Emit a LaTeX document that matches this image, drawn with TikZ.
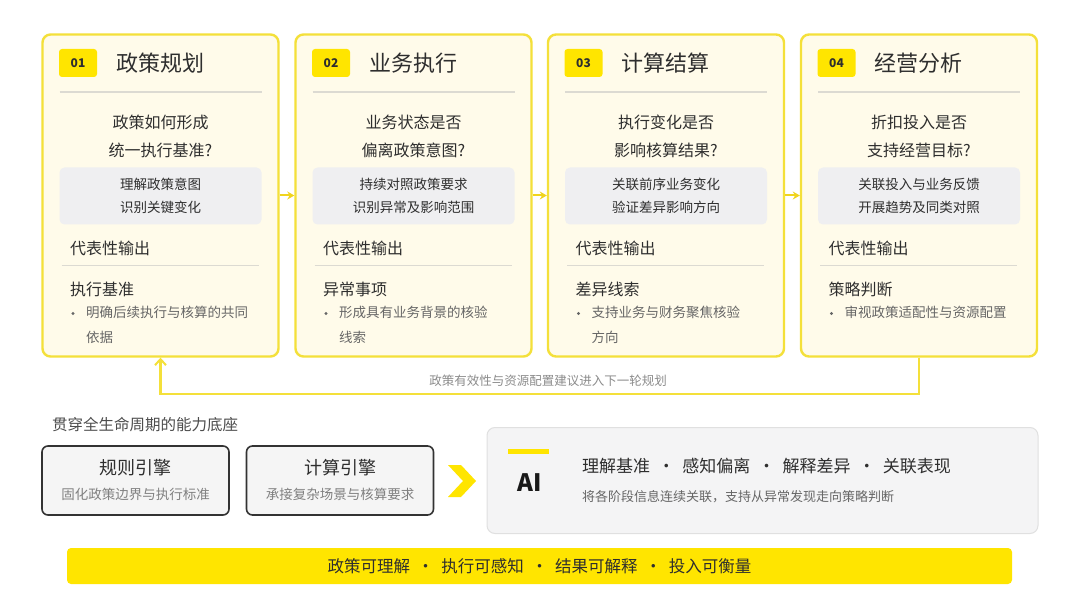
\documentclass[tikz,border=0pt]{standalone}
\usepackage{fontspec}
\setmainfont{Noto Sans CJK SC}
\usetikzlibrary{arrows.meta}
\definecolor{ylw}{HTML}{F4E03A}
\definecolor{ylwarr}{HTML}{F0D41E}
\definecolor{ylwfill}{HTML}{FFE500}
\definecolor{cream}{HTML}{FFFBEA}
\definecolor{grybox}{HTML}{EFEFF1}
\definecolor{txt}{HTML}{2E2E2E}
\definecolor{subtxt}{HTML}{666666}
\definecolor{lightline}{HTML}{DCDAD2}
\newcommand{\fs}[1]{\fontsize{#1}{#1}\selectfont}
\tikzset{
  card/.style={draw=ylw, line width=2.4pt, fill=cream, rounded corners=8pt, minimum width=236pt, minimum height=322pt, inner sep=0pt},
  badge/.style={fill=ylwfill, rounded corners=3pt, minimum width=38pt, minimum height=28pt, inner sep=0pt, font=\fs{12}\bfseries, text=txt},
  ttl/.style={anchor=west, font=\fs{22}, text=txt, inner sep=0pt},
  qst/.style={align=center, font=\fs{16}, text=txt, inner sep=0pt},
  gbox/.style={fill=grybox, rounded corners=5pt, minimum width=202pt, minimum height=57pt, align=center, font=\fs{13.5}, text=txt, inner sep=0pt},
  hd/.style={anchor=west, font=\fs{16}, text=txt, inner sep=0pt},
  bul/.style={anchor=north west, font=\fs{13.5}, text=subtxt, inner sep=0pt, align=left},
  dot/.style={circle, fill=subtxt, inner sep=0pt, minimum size=3.2pt},
  sep/.style={draw=lightline, line width=1.6pt},
  carr/.style={draw=ylwarr, line width=2pt, -{Stealth[length=7pt,width=8pt]}},
  fb/.style={draw=ylw, line width=2.4pt, -{Straight Barb[length=6pt,width=11pt,line width=2pt]}},
  eng/.style={draw=black!80, line width=1.6pt, fill=black!4, rounded corners=6pt, minimum width=187pt, minimum height=69pt, inner sep=0pt},
}
\begin{document}
\begin{tikzpicture}[x=1pt,y=-1pt]
\useasboundingbox[fill=white] (0,0) rectangle (1080,607);

% cards
\foreach \i/\cx/\num/\title/\qa/\qb/\ga/\gb/\out/\ba/\bb in {
 1/160.5/01/政策规划/政策如何形成/统一执行基准?/理解政策意图/识别关键变化/执行基准/明确后续执行与核算的共同/依据,
 2/413.5/02/业务执行/业务状态是否/偏离政策意图?/持续对照政策要求/识别异常及影响范围/异常事项/形成具有业务背景的核验/线索,
 3/666/03/计算结算/执行变化是否/影响核算结果?/关联前序业务变化/验证差异影响方向/差异线索/支持业务与财务聚焦核验/方向,
 4/919/04/经营分析/折扣投入是否/支持经营目标?/关联投入与业务反馈/开展趋势及同类对照/策略判断/审视政策适配性与资源配置/}{
  \node[card] (c\i) at (\cx,195.5) {};
  \node[badge] (b\i) at (\cx-82.5,63) {\num};
  \node[ttl] (t\i) at (\cx-44.5,63.5) {\title};
  \draw[sep] (\cx-101,92) -- (\cx+101,92);
  \node[qst] (q\i) at (\cx,136.5) {\qa\\[12pt]\qb};
  \node[gbox] (g\i) at (\cx,196) {\ga\\[10pt]\gb};
  \node[hd] (h\i) at (\cx-90.5,248) {代表性输出};
  \draw[sep] (\cx-99,265.5) -- (\cx+98,265.5);
  \node[hd] (o\i) at (\cx-90.5,289) {\out};
  \node[dot] (d\i) at (\cx-87.5,313.5) {};
  \node[bul] (e\i) at (\cx-74.5,306) {\ba\\[11pt]\bb};
}

% arrows between cards
\draw[carr] (c1.east) -- (c2.west);
\draw[carr] (c2.east) -- (c3.west);
\draw[carr] (c3.east) -- (c4.west);

% feedback loop
\coordinate (fbr) at (919,394);
\coordinate (fbl) at (160.5,394);
\draw[fb] (c4.south) -- (fbr) -- (fbl) -- (c1.south);
\node[font=\fs{12.5}, text=black!45, inner sep=0pt] (fbt) at (548,381) {政策有效性与资源配置建议进入下一轮规划};

% capability base
\node[anchor=west, font=\fs{15.5}, text=black!70, inner sep=0pt] (base) at (52,425) {贯穿全生命周期的能力底座};
\node[eng] (e1) at (135.5,480.5) {};
\node[font=\fs{18}, text=txt, inner sep=0pt] (e1t) at (135.5,467.5) {规则引擎};
\node[font=\fs{13.5}, text=black!50, inner sep=0pt] (e1s) at (135.5,494) {固化政策边界与执行标准};
\node[eng] (e2) at (340,480.5) {};
\node[font=\fs{18}, text=txt, inner sep=0pt] (e2t) at (340,467.5) {计算引擎};
\node[font=\fs{13.5}, text=black!50, inner sep=0pt] (e2s) at (340,494) {承接复杂场景与核算要求};

% chevron
\fill[ylwfill] (448,465) -- (461,465) -- (476,481) -- (461,497) -- (448,497) -- (463,481) -- cycle;

% AI box
\node[draw=black!12, line width=1pt, fill=grybox!70, rounded corners=8pt, minimum width=551pt, minimum height=106pt, inner sep=0pt] (ai) at (762.5,480.5) {};
\fill[ylwfill] (508,449) rectangle (549,454);
\node[font=\fs{24}\bfseries, text=black!90, inner sep=0pt] (ait) at (530,483) {AI};
\node[anchor=west, font=\fs{17}, text=txt, inner sep=0pt] (aih) at (582,466) {理解基准~~·~~感知偏离~~·~~解释差异~~·~~关联表现};
\node[anchor=west, font=\fs{13}, text=black!60, inner sep=0pt] (ais) at (582,497) {将各阶段信息连续关联，支持从异常发现走向策略判断};

% bottom bar
\node[fill=ylwfill, rounded corners=4pt, minimum width=945pt, minimum height=36pt, inner sep=0pt, font=\fs{16.5}, text=txt] (bar) at (539.5,566) {政策可理解~~·~~执行可感知~~·~~结果可解释~~·~~投入可衡量};
\end{tikzpicture}
\end{document}
